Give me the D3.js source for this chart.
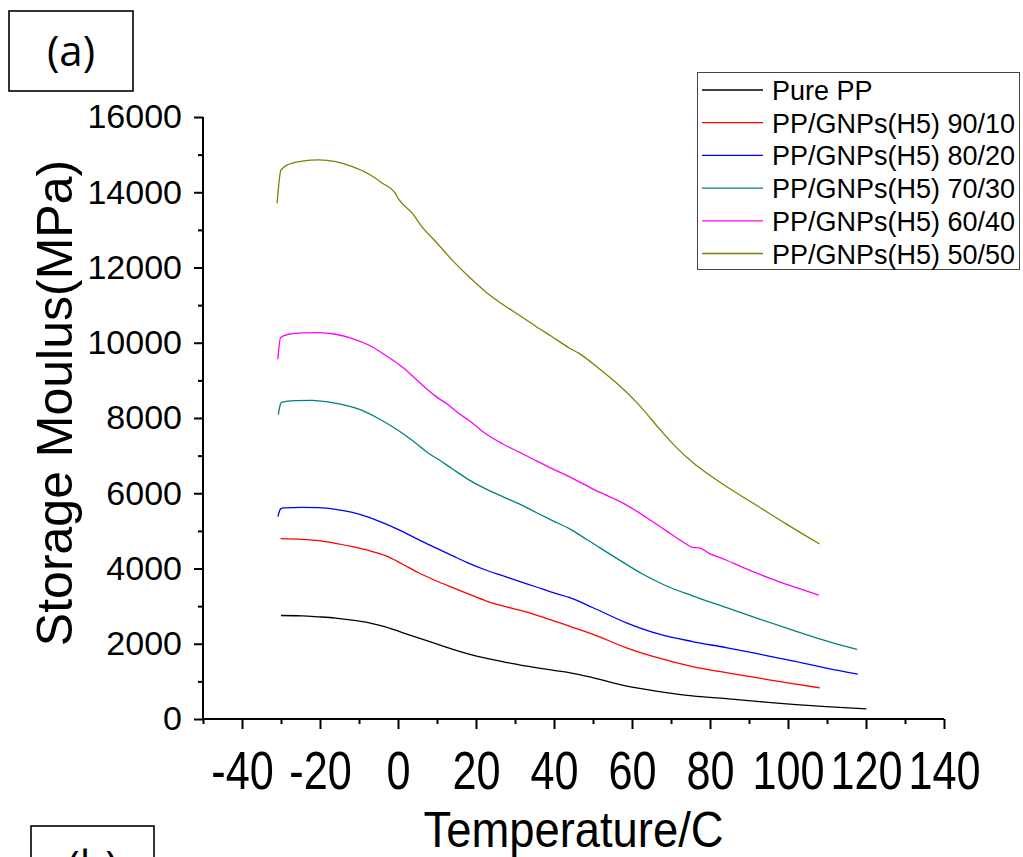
<!DOCTYPE html>
<html>
<head>
<meta charset="utf-8">
<script src="https://cdn.jsdelivr.net/npm/d3@7"></script>
<style>
  html, body { margin: 0; padding: 0; background: #fff; }
  svg { display: block; font-family: "Liberation Sans", Arial, sans-serif; }
</style>
</head>
<body>
<svg id="chart" width="1023" height="857"></svg>
<script>
// Storage modulus (MPa) versus temperature (°C) for PP and PP/GNP blends

const seriesNames = [
  "Pure PP",
  "PP/GNPs(H5) 90/10",
  "PP/GNPs(H5) 80/20",
  "PP/GNPs(H5) 70/30",
  "PP/GNPs(H5) 60/40",
  "PP/GNPs(H5) 50/50"
];
const seriesColors = ["#000000", "#ff0000", "#0000ff", "#008080", "#ff00ff", "#808000"];

const purePP = [
  [-30.0, 2751], [-24.6, 2743], [-20.3, 2716], [-16.0, 2682], [-11.7, 2628], [-7.4, 2556],
  [-3.2, 2450], [1.1, 2298], [5.4, 2149], [9.7, 2005], [13.9, 1856], [18.2, 1723],
  [22.5, 1616], [26.8, 1526], [31.1, 1438], [35.3, 1366], [39.6, 1297], [43.9, 1235],
  [49.9, 1100], [58.4, 879], [67.0, 727], [75.5, 612], [84.1, 541], [92.7, 461],
  [101.2, 391], [109.8, 328], [120.1, 270]
];
const pp9010 = [
  [-30.1, 4793], [-24.6, 4775], [-20.3, 4740], [-16.0, 4668], [-11.7, 4580], [-7.4, 4474],
  [-3.2, 4341], [1.1, 4120], [5.4, 3880], [9.7, 3675], [13.9, 3497], [18.2, 3320],
  [22.5, 3142], [26.8, 3009], [31.1, 2894], [35.3, 2770], [39.2, 2636], [41.3, 2560],
  [49.9, 2255], [58.4, 1899], [67.0, 1616], [75.5, 1393], [84.1, 1233], [92.7, 1084],
  [101.2, 940], [108.1, 830]
];
const pp8020 = [
  [-30.8, 5379], [-30.1, 5584], [-29.3, 5611], [-24.6, 5627], [-20.3, 5619], [-16.0, 5574],
  [-11.7, 5494], [-7.4, 5361], [-3.2, 5185], [1.1, 4988], [5.4, 4759], [9.7, 4546],
  [13.9, 4341], [18.2, 4136], [22.5, 3960], [26.8, 3808], [31.1, 3656], [35.3, 3515],
  [39.6, 3363], [43.9, 3230], [49.9, 2964], [58.4, 2564], [67.0, 2255], [75.5, 2059],
  [84.1, 1899], [92.7, 1723], [101.2, 1545], [109.8, 1350], [117.9, 1190]
];
const pp7030 = [
  [-30.7, 8088], [-30.1, 8381], [-29.7, 8423], [-26.3, 8460], [-22.0, 8469], [-17.7, 8423],
  [-13.4, 8335], [-9.2, 8202], [-4.9, 7981], [-0.6, 7715], [3.7, 7403], [8.0, 7049],
  [10.5, 6889], [13.9, 6650], [18.2, 6357], [22.5, 6117], [26.8, 5912], [31.1, 5717],
  [35.3, 5494], [39.6, 5273], [43.9, 5060], [48.2, 4785], [56.7, 4230], [62.7, 3853],
  [68.7, 3542], [75.5, 3275], [84.1, 2964], [92.7, 2655], [101.2, 2362], [109.8, 2077],
  [117.7, 1850]
];
const pp6040 = [
  [-30.8, 9560], [-30.1, 10138], [-28.0, 10226], [-24.6, 10261], [-20.3, 10271], [-16.0, 10226],
  [-11.7, 10111], [-7.4, 9933], [-3.2, 9667], [1.1, 9355], [5.4, 8956], [9.7, 8575],
  [13.1, 8335], [15.7, 8114], [18.2, 7936], [22.5, 7581], [26.8, 7315], [31.1, 7092],
  [35.3, 6871], [39.6, 6650], [43.9, 6440], [49.9, 6117], [58.4, 5699], [63.6, 5361],
  [68.7, 5006], [73.9, 4652], [75.5, 4562], [77.3, 4546], [79.8, 4402], [84.1, 4226],
  [88.4, 4029], [97.0, 3675], [107.9, 3290]
];
const pp5050 = [
  [-31.0, 13706], [-30.0, 14593], [-28.0, 14745], [-24.6, 14825], [-20.3, 14860], [-16.0, 14815],
  [-11.7, 14681], [-7.4, 14478], [-4.0, 14239], [-0.8, 13990], [0.3, 13795], [3.7, 13440],
  [5.8, 13129], [9.7, 12684], [13.9, 12197], [18.2, 11752], [22.5, 11352], [26.8, 11025],
  [31.1, 10732], [35.3, 10439], [39.6, 10154], [43.9, 9861], [46.5, 9712], [51.6, 9312],
  [56.7, 8868], [61.9, 8335], [67.0, 7715], [71.3, 7225], [75.5, 6825], [80.7, 6426],
  [85.8, 6072], [92.7, 5627], [99.5, 5185], [108.1, 4650]
];
const seriesValues = [purePP, pp9010, pp8020, pp7030, pp6040, pp5050];

const xMajorTicks = [-40, -20, 0, 20, 40, 60, 80, 100, 120, 140];
const xMinorTicks = [-50, -30, -10, 10, 30, 50, 70, 90, 110, 130];
const yMajorTicks = [0, 2000, 4000, 6000, 8000, 10000, 12000, 14000, 16000];
const yMinorTicks = [1000, 3000, 5000, 7000, 9000, 11000, 13000, 15000];

const xTitle = "Temperature/C";
const yTitle = "Storage Moulus(MPa)";

const svg = d3.select("#chart");

const plot = { left: 203, right: 944, top: 117, bottom: 719 };
const x = d3.scaleLinear().domain([-50, 140]).range([plot.left, plot.right]);
const y = d3.scaleLinear().domain([0, 16000]).range([plot.bottom, plot.top]);

// Plain hyphen-minus for negative tick values
const plainNumber = d => String(d);

// Panel tags
function panelTag(px, py, w, h, label) {
  const g = svg.append("g");
  g.append("rect").attr("x", px).attr("y", py).attr("width", w).attr("height", h)
    .attr("fill", "#fff").attr("stroke", "#000").attr("stroke-width", 1.6);
  g.append("text").attr("x", px + w / 2).attr("y", py + h / 2 + 15)
    .attr("text-anchor", "middle")
    .attr("font-family", "'Open Sans', 'Noto Sans', sans-serif")
    .attr("font-size", 42).text(label);
}
panelTag(9, 11, 124, 80, "(a)");
panelTag(31, 826, 123, 80, "(b)");

// Curves
const line = d3.line()
  .x(d => x(d[0]))
  .y(d => y(d[1]))
  .curve(d3.curveMonotoneX);

svg.append("g").selectAll("path")
  .data(seriesValues)
  .join("path")
  .attr("d", line)
  .attr("fill", "none")
  .attr("stroke", (d, i) => seriesColors[i])
  .attr("stroke-width", 1.3);

// Y axis
const yAxis = svg.append("g").attr("transform", `translate(${plot.left},0)`);
yAxis.call(d3.axisLeft(y).tickValues(yMajorTicks).tickSize(9).tickPadding(12).tickFormat(plainNumber));
yAxis.append("g").call(d3.axisLeft(y).tickValues(yMinorTicks).tickSize(5).tickFormat(""));
yAxis.selectAll(".domain").attr("stroke-width", 2).attr("d", `M0,${plot.bottom}V${plot.top}`);
yAxis.selectAll(".tick line").attr("stroke-width", 2);
yAxis.selectAll(".tick text")
  .attr("font-family", "'Liberation Sans', Arial, sans-serif")
  .attr("font-size", 34).attr("fill", "#000");

// X axis
const xAxis = svg.append("g").attr("transform", `translate(0,${plot.bottom})`);
xAxis.call(d3.axisBottom(x).tickValues(xMajorTicks).tickSize(10).tickFormat(plainNumber));
xAxis.append("g").call(d3.axisBottom(x).tickValues(xMinorTicks).tickSize(5).tickFormat(""));
xAxis.selectAll(".domain").attr("stroke-width", 2).attr("d", `M${plot.left},0H${plot.right}`);
xAxis.selectAll(".tick line").attr("stroke-width", 2);
xAxis.selectAll(".tick text")
  .attr("font-family", "'Liberation Sans', Arial, sans-serif")
  .attr("font-size", 54).attr("fill", "#000")
  .attr("y", 0).attr("dy", 0)
  .attr("transform", "translate(0,70) scale(0.8,1)");

// Axis titles
svg.append("text")
  .attr("x", (plot.left + plot.right) / 2).attr("y", 847)
  .attr("text-anchor", "middle")
  .attr("font-size", 50)
  .attr("textLength", 300).attr("lengthAdjust", "spacingAndGlyphs")
  .text(xTitle);

svg.append("text")
  .attr("transform", "translate(72,403) rotate(-90)")
  .attr("text-anchor", "middle")
  .attr("font-size", 50)
  .text(yTitle);

// Legend
const legend = svg.append("g");
legend.append("rect").attr("x", 697.5).attr("y", 72.5).attr("width", 322).attr("height", 197)
  .attr("fill", "#fff").attr("stroke", "#444").attr("stroke-width", 1);
const rows = legend.selectAll("g.row").data(seriesNames).join("g")
  .attr("class", "row")
  .attr("transform", (d, i) => `translate(0,${90 + i * 32.7})`);
rows.append("line").attr("x1", 702).attr("x2", 763).attr("y1", 0).attr("y2", 0)
  .attr("stroke", (d, i) => seriesColors[i]).attr("stroke-width", 1.3);
rows.append("text").attr("x", 772).attr("y", 10).attr("font-size", 27).text(d => d);
</script>
</body>
</html>
